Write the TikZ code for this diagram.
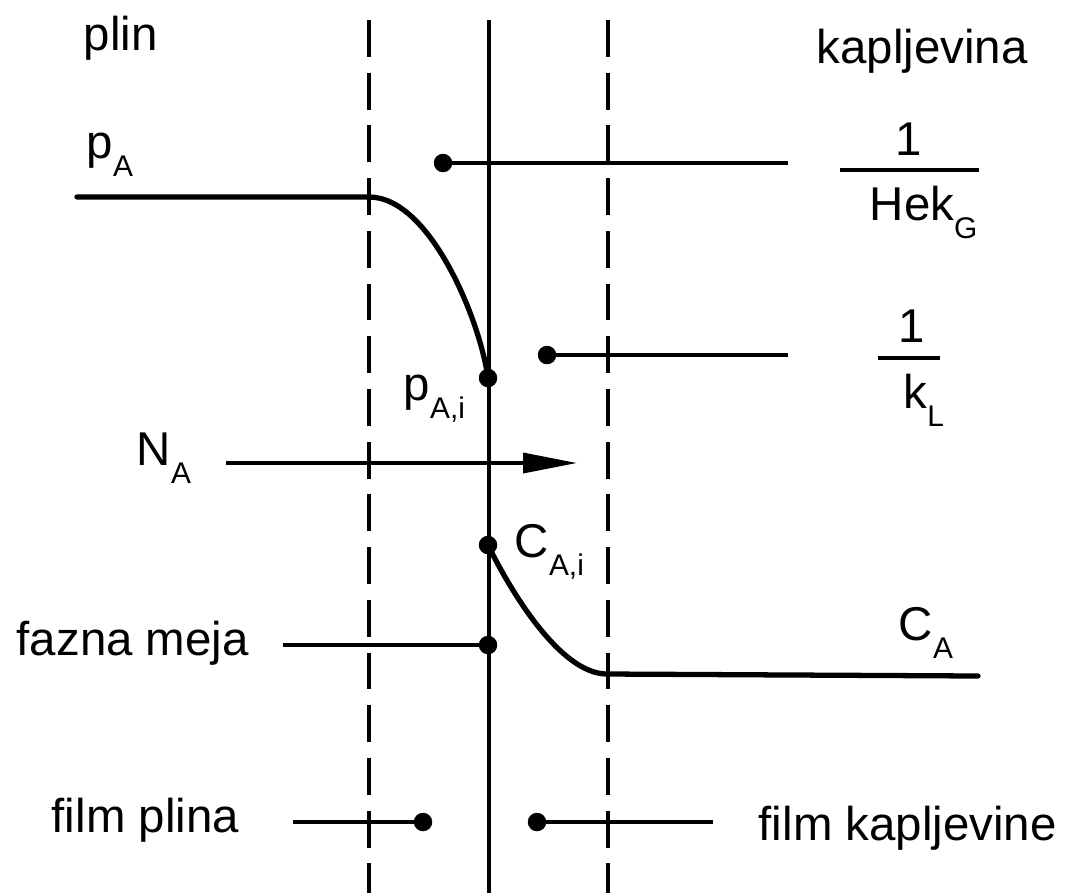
\documentclass[tikz,border=0pt]{standalone}
\usepackage{fontspec}
\setmainfont{Liberation Sans}
\usetikzlibrary{arrows.meta,positioning}

\newcommand{\lowsub}[1]{\raisebox{-0.4em}{\fontsize{17}{17}\selectfont #1}}

\tikzset{
  lbl/.style={inner sep=0pt, font=\fontsize{27}{32}\selectfont},
  dotnode/.style={circle, fill, inner sep=0pt, minimum size=0.37cm},
  profile/.style={line width=3pt},
  pointer/.style={line width=2pt}
}

\begin{document}
\begin{tikzpicture}[x=0.02cm, y=-0.02cm, line width=2pt]
  \useasboundingbox (0,0) rectangle (1070,893);

  % film boundaries and interface
  \coordinate (gtop) at (369,20);   \coordinate (gbot) at (369,893);
  \coordinate (itop) at (489,20);   \coordinate (ibot) at (489,893);
  \coordinate (ltop) at (608,20);   \coordinate (lbot) at (608,893);
  \draw[line width=2.4pt] (itop) -- (ibot);
  \begin{scope}[dash pattern=on 21pt off 9pt, line width=2pt]
    \draw (gtop) -- (gbot);
    \draw (ltop) -- (lbot);
  \end{scope}

  % texts
  \node[lbl, anchor=base west] (plin) at (82,50) {plin};
  \node[lbl, anchor=base west] (kap) at (815,63) {kapljevina};
  \node[lbl, anchor=base west] (pa) at (85,158) {p\lowsub{A}};
  \node[lbl, anchor=base west] (na) at (135,465) {N\lowsub{A}};
  \node[lbl, anchor=base west] (pai) at (402,400) {p\lowsub{A,i}};
  \node[lbl, anchor=base west] (cai) at (513,557) {C\lowsub{A,i}};
  \node[lbl, anchor=base west] (ca) at (897,640) {C\lowsub{A}};
  \node[lbl, anchor=base west] (meja) at (15,655) {fazna meja};
  \node[lbl, anchor=base west] (fplin) at (50,832) {film plina};
  \node[lbl, anchor=base west] (fkap) at (757,840) {film kapljevine};
  \node[lbl, anchor=base] (oneg) at (909,155) {1};
  \node[lbl, anchor=base west] (hek) at (868,220) {Hek\lowsub{G}};
  \node[lbl, anchor=base] (onel) at (912,342) {1};
  \node[lbl, anchor=base west] (kl) at (902,408) {k\lowsub{L}};
  \draw[pointer] (840,170) -- (979,170);
  \draw[pointer] (878,358) -- (940,358);

  % dots
  \node[dotnode] (dpai) at (488,378) {};
  \node[dotnode] (dcai) at (488,545) {};
  \node[dotnode] (dmeja) at (488,645) {};
  \node[dotnode] (dhek) at (443,163) {};
  \node[dotnode] (dkl) at (547,355) {};
  \node[dotnode] (dfplin) at (423,822) {};
  \node[dotnode] (dfkap) at (537,822) {};

  % concentration profiles
  \coordinate (pstart) at (77,197);
  \coordinate (pbend) at (369,197);
  \coordinate (cbend) at (607,674);
  \coordinate (cend) at (978,676);
  \draw[profile, line cap=round] (pstart) -- (pbend)
    .. controls (430,197) and (480,320) .. (dpai.center);
  \draw[profile, line cap=round] (dcai.center)
    .. controls (510,590) and (560,674) .. (cbend) -- (cend);

  % pointer lines
  \coordinate (hekend) at (788,163);
  \coordinate (klend) at (788,355);
  \coordinate (mejastart) at (283,645);
  \coordinate (fplinstart) at (293,822);
  \coordinate (fkapend) at (713,822);
  \draw[pointer] (dhek.center) -- (hekend);
  \draw[pointer] (dkl.center) -- (klend);
  \draw[pointer] (mejastart) -- (dmeja.center);
  \draw[pointer] (fplinstart) -- (dfplin.center);
  \draw[pointer] (dfkap.center) -- (fkapend);

  % flux
  \coordinate (nastart) at (226,463);
  \coordinate (naend) at (577,463);
  \draw[pointer, -{Triangle[length=1.08cm, width=0.4cm]}] (nastart) -- (naend);
\end{tikzpicture}
\end{document}
